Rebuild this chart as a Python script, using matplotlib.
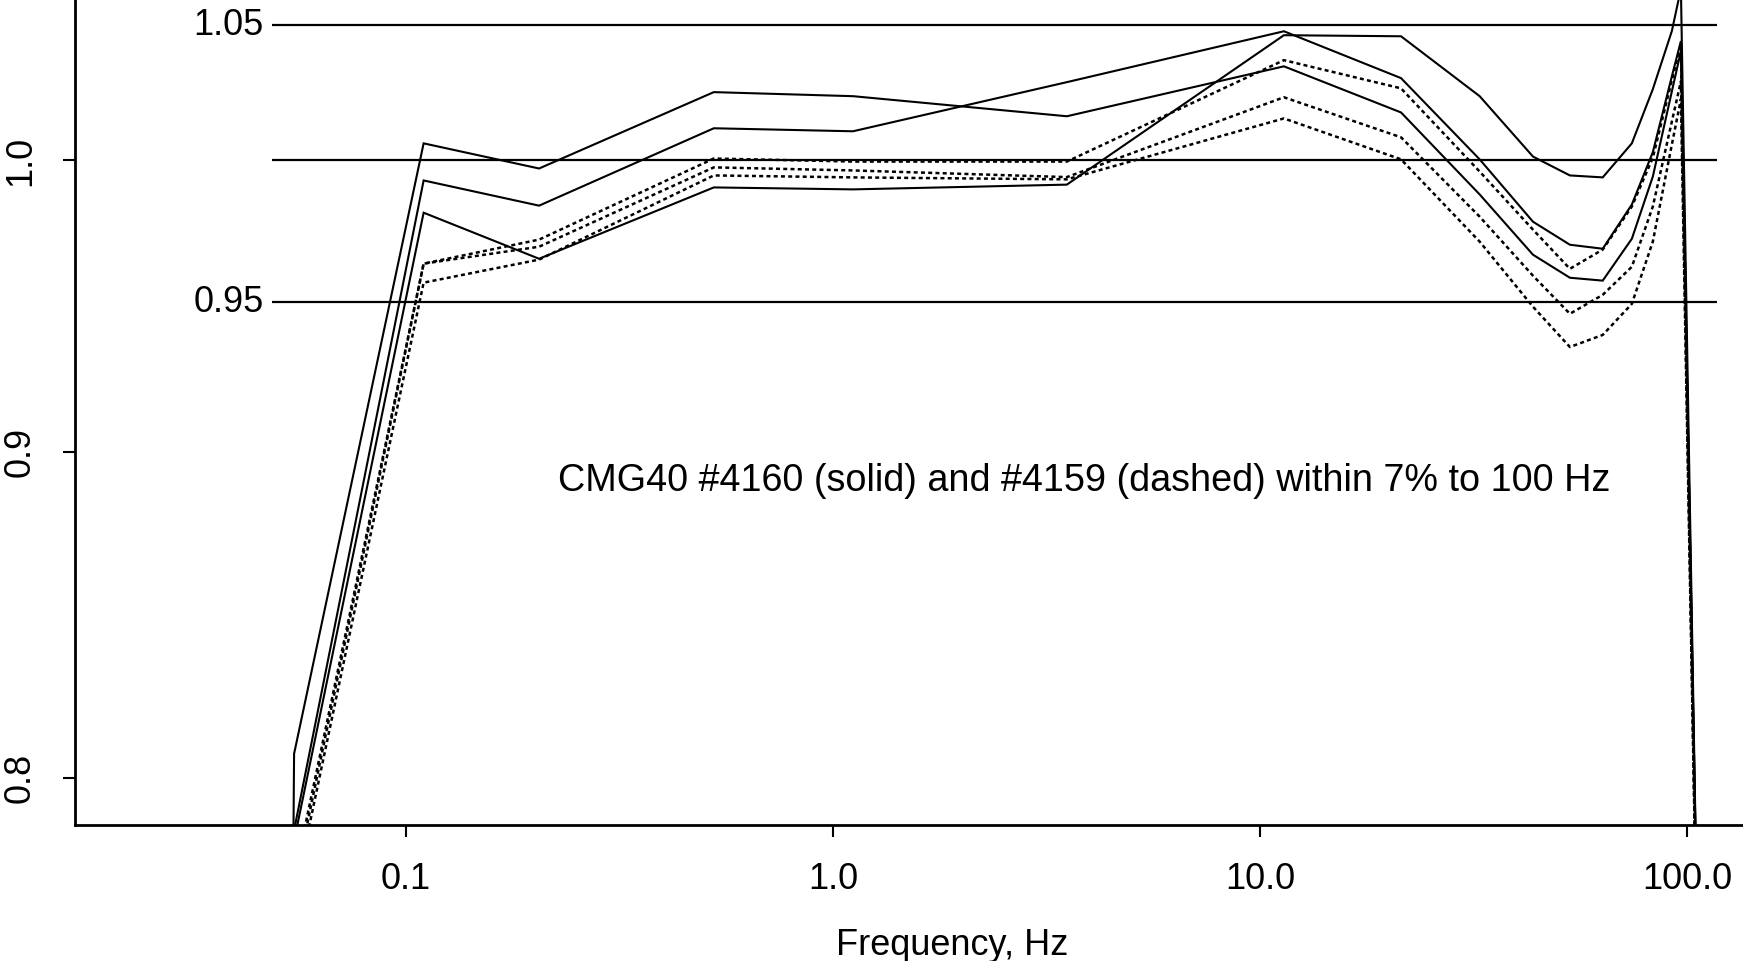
import matplotlib
matplotlib.use("Agg")
import matplotlib.pyplot as plt

plt.rcParams['font.family'] = ['Liberation Sans', 'DejaVu Sans']

nan = float('nan')

# frequencies (Hz) of the measured points
freq = [0.0538, 0.0547, 0.110, 0.205, 0.526, 1.114, 3.53, 11.38, 21.4, 32.7,
        43.6, 53.2, 63.5, 74.3, 83.2, 92.2, 96.8, 106.0]

# CMG40 #4160 (solid)
s1 = [0.70, 0.807, 1.0062, 0.9971, 1.0250, 1.0235, 1.0161, 1.0346, 1.0175,
      0.9878, 0.9665, 0.9585, 0.9575, 0.9721, 0.9942, 1.0253, 1.0403, 0.75]
s2 = [nan, 0.785, 0.9928, 0.9838, 1.0117, 1.0106, 1.0287, 1.0478, 1.0302,
      1.0004, 0.9781, 0.9700, 0.9686, 0.9842, 1.0030, 1.0309, 1.0441, 0.75]
s3 = [nan, 0.782, 0.9813, 0.9651, 0.9903, 0.9896, 0.9913, 1.0463, 1.0459,
      1.0235, 1.0014, 0.9946, 0.9939, 1.0062, 1.0261, 1.0479, 1.0640, 0.75]

# CMG40 #4159 (dashed)
d1 = [nan, 0.7715, 0.9634, 0.9718, 1.0007, 0.9996, 0.9996, 1.0369, 1.0264,
      0.9960, 0.9753, 0.9616, 0.9683, 0.9835, 1.0010, 1.0294, 1.0429, 0.74]
d2 = [nan, 0.769, 0.9634, 0.9693, 0.9975, 0.9964, 0.9940, 1.0231, 1.0084,
      0.9799, 0.9592, 0.9461, 0.9526, 0.9623, 0.9835, 1.0142, 1.0290, 0.74]
d3 = [nan, 0.766, 0.9568, 0.9648, 0.9946, 0.9939, 0.9932, 1.0153, 1.0004,
      0.9711, 0.9485, 0.9348, 0.9389, 0.9495, 0.9711, 1.0058, 1.0224, 0.74]

ref_levels = [0.95, 1.0, 1.05]
xticks = [0.1, 1.0, 10.0, 100.0]
xticklabels = ["0.1", "1.0", "10.0", "100.0"]
yticks = [0.8, 0.9, 1.0]
yticklabels = ["0.8", "0.9", "1.0"]

fig = plt.figure(figsize=(17.43, 9.61), dpi=100)
ax = fig.add_axes([0.0430, 0.1415, 0.9570, 0.8585])
ax.set_xscale('log')
ax.set_yscale('log')
ax.set_xlim(0.01678, 135.3)
ax.set_ylim(0.7865, 1.0597)

for s in (s1, s2, s3):
    ax.plot(freq, s, color='black', lw=1.5, solid_joinstyle='miter')
for d in (d1, d2, d3):
    ax.plot(freq, d, color='black', lw=1.8, linestyle=(0, (1.6, 1.3)))

ax.hlines(ref_levels, 0.0485, 117.5, color='black', lw=1.6)
ax.text(0.0465, 1.05, "1.05", ha='right', va='center', fontsize=26)
ax.text(0.0465, 0.95, "0.95", ha='right', va='center', fontsize=26)

ax.text(3.87, 0.8905, "CMG40 #4160 (solid) and #4159 (dashed) within 7% to 100 Hz",
        ha='center', va='center', fontsize=27.2)

ax.spines['top'].set_visible(False)
ax.spines['right'].set_visible(False)
ax.spines['left'].set_linewidth(2.0)
ax.spines['bottom'].set_linewidth(2.0)

ax.minorticks_off()
ax.set_xticks(xticks, labels=xticklabels)
ax.set_yticks(yticks, labels=yticklabels)
ax.minorticks_off()
ax.tick_params(direction='out', length=8.6, width=1.5, pad=18, labelsize=26)
plt.setp(ax.get_yticklabels(), rotation=90, va='center')

ax.set_xlabel("Frequency, Hz", fontsize=26)
ax.xaxis.set_label_coords(0.526, -0.146)
ax.xaxis.label.set_va('center')

fig.savefig("out.png", dpi=100)
